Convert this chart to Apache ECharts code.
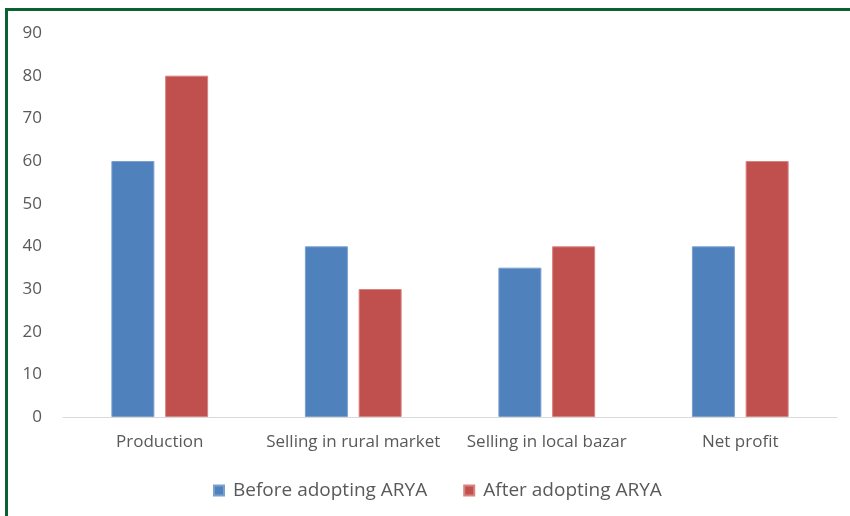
<!DOCTYPE html>
<html>
<head>
<meta charset="utf-8">
<script src="https://cdn.jsdelivr.net/npm/echarts@6/dist/echarts.min.js"></script>
<style>
  html, body { margin: 0; padding: 0; background: #fff; }
  #wrap { position: relative; width: 850px; height: 516px; overflow: hidden; }
  #frame { position: absolute; left: 5px; top: 8px; width: 900px; height: 600px;
           border-top: 3px solid #0a6132; border-left: 3px solid #0a6132; box-sizing: border-box; }
  #chart { position: absolute; left: 0; top: 0; width: 850px; height: 516px; }
</style>
</head>
<body>
<div id="wrap">
  <div id="frame"></div>
  <div id="chart"></div>
</div>
<script>
const categories = ['Production', 'Selling in rural market', 'Selling in local bazar', 'Net profit'];
const beforeValues = [60, 40, 35, 40];
const afterValues = [80, 30, 40, 60];
const seriesNames = ['Before adopting ARYA', 'After adopting ARYA'];

const textColor = '#595959';
const fontFamily = '"Open Sans", Lato, sans-serif';

const chart = echarts.init(document.getElementById('chart'), null, { renderer: 'canvas' });
chart.setOption({
  animation: false,
  backgroundColor: 'transparent',
  textStyle: { fontFamily: fontFamily },
  grid: { left: 63, right: 13, top: 33, bottom: 99, containLabel: false },
  legend: {
    data: seriesNames,
    bottom: 16,
    left: 213,
    padding: 0,
    itemWidth: 10,
    itemHeight: 10,
    itemGap: 36,
    icon: 'rect',
    textStyle: { color: textColor, fontSize: 19, fontFamily: fontFamily, padding: [0, 0, 0, 4] }
  },
  xAxis: {
    type: 'category',
    data: categories,
    axisLine: { show: true, lineStyle: { color: '#d9d9d9', width: 1 } },
    axisTick: { show: false },
    axisLabel: {
      color: textColor, fontSize: 17, margin: 17, fontFamily: fontFamily,
      interval: 0, hideOverlap: false
    }
  },
  yAxis: {
    type: 'value',
    min: 0,
    max: 90,
    interval: 10,
    axisLine: { show: false },
    axisTick: { show: false },
    splitLine: { show: false },
    axisLabel: { color: textColor, fontSize: 17, margin: 21, fontFamily: fontFamily }
  },
  series: [
    {
      name: seriesNames[0],
      type: 'bar',
      data: beforeValues,
      barWidth: 43,
      barGap: '25%',
      itemStyle: { color: '#4f81bd', borderColor: '#7aa0d0', borderWidth: 1 }
    },
    {
      name: seriesNames[1],
      type: 'bar',
      data: afterValues,
      barWidth: 43,
      barGap: '25%',
      itemStyle: { color: '#c0504d', borderColor: '#d88380', borderWidth: 1 }
    }
  ]
});
</script>
</body>
</html>
